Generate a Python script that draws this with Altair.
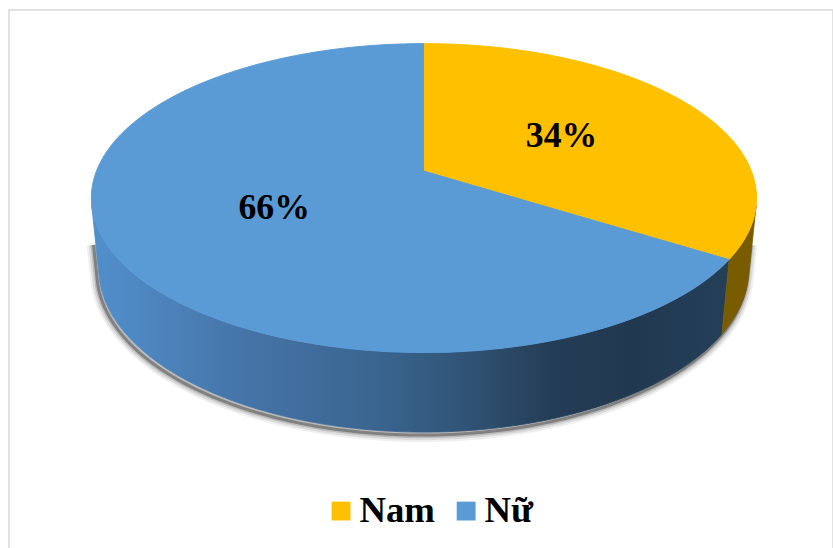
import numpy as np
import pandas as pd
import altair as alt

# ---- data ----
categories = ["Nam", "Nữ"]
values = [34, 66]
label_texts = ["34%", "66%"]
top_colors = ["#FFC000", "#5B9BD5"]
yellow_side = "#7A5C00"

# ---- 3D view parameters (layout, not data) ----
TILT = np.radians(27.2)
DIST = 5.03
THICK = 0.245
K = 329.7           # pixels per unit radius
CX, CY = 427, 170   # pixel position of pie centre
PAD_L, PAD_T = 9, 8
W, H = 830, 545


def project(X, Y, Zd):
    c, s = np.cos(TILT), np.sin(TILT)
    v = Y * c - Zd * s
    w = Zd * c + Y * s
    f = DIST / (DIST - w)
    return X * f, v * f


def rim(theta_deg, Y=0.0, r=1.0):
    t = np.radians(theta_deg)
    return project(r * np.sin(t), Y, -r * np.cos(t))


def arc(t0, t1, Y=0.0):
    n = max(2, int(abs(t1 - t0))) + 1
    ang = np.linspace(t0, t1, n)
    xs, ys = rim(ang, Y)
    return list(zip(xs, ys))


total = sum(values)
bounds = []
acc = 0.0
for v in values:
    t0 = acc / total * 360
    acc += v
    t1 = acc / total * 360
    bounds.append((t0, t1))

theta_s = np.degrees(np.arccos(-1.0 / (DIST * np.cos(TILT))))
color_of = dict(zip(categories, top_colors))

# top faces
top_rows = []
for cat, (t0, t1) in zip(categories, bounds):
    pts = [(0.0, 0.0)] + arc(t0, t1, 0.0) + [(0.0, 0.0)]
    for i, (x, y) in enumerate(pts):
        top_rows.append({"piece": "top_" + cat, "cat": cat, "edge": color_of[cat], "i": i, "x": x, "y": y})
top_df = pd.DataFrame(top_rows)

# side faces
side_rows = []
for cat, (t0, t1) in zip(categories, bounds):
    lo, hi = max(t0, theta_s), min(t1, 360 - theta_s)
    if hi <= lo:
        continue
    pts = arc(lo, hi, 0.0) + arc(hi, lo, -THICK)
    pts.append(pts[0])
    for i, (x, y) in enumerate(pts):
        side_rows.append({"piece": "side_" + cat, "cat": cat, "i": i, "x": x, "y": y})
side_df = pd.DataFrame(side_rows)

# shadow: open path along the outer silhouette of the side, shifted down-left
top_start = -THICK * 0.5
sh_pts = [tuple(rim(360 - theta_s, top_start))] + arc(360 - theta_s, theta_s, -THICK) + [tuple(rim(theta_s, top_start))]
shadow_df = pd.DataFrame(
    [{"piece": "shadow", "i": i, "x": x - 2.0 / K, "y": y - 3.0 / K} for i, (x, y) in enumerate(sh_pts)]
)

# labels at half radius of each slice's mid-angle
lab_rows = []
for cat, txt, (t0, t1) in zip(categories, label_texts, bounds):
    x, y = rim((t0 + t1) / 2, 0.0, 0.5)
    lab_rows.append({"cat": cat, "label": txt, "x": float(x), "y": float(y)})
lab_df = pd.DataFrame(lab_rows)

# scales so that one unit = K pixels with centre at (CX, CY)
xmin = (PAD_L - CX) / K
xmax = xmin + W / K
ymax = (CY - PAD_T) / K
ymin = ymax - H / K
xs = alt.Scale(domain=[xmin, xmax], nice=False, zero=False)
ys = alt.Scale(domain=[ymin, ymax], nice=False, zero=False)

X = alt.X("x:Q", scale=xs, axis=None)
Y = alt.Y("y:Q", scale=ys, axis=None)

fill_scale = alt.Scale(domain=categories, range=top_colors)
legend = alt.Legend(
    title=None, orient="none", legendX=316, legendY=486,
    direction="horizontal", symbolType="square", symbolSize=361,
    symbolStrokeWidth=0, symbolOpacity=1, labelFont="Liberation Serif", labelFontSize=37,
    labelFontWeight="bold", labelColor="#000000", labelOffset=0,
    columnPadding=12, padding=0,
)

shadow_layers = []
for sw, op in [(14, 0.06), (10, 0.09), (6, 0.15), (3, 0.3)]:
    shadow_layers.append(
        alt.Chart(shadow_df).mark_line(
            stroke="#000000", strokeOpacity=op, strokeWidth=sw,
            strokeJoin="round", strokeCap="butt"
        ).encode(x=X, y=Y, order=alt.Order("i:Q"), detail="piece:N")
    )

blue_grad = alt.Gradient(
    gradient="linear", x1=0, x2=1, y1=0, y2=0,
    stops=[
        alt.GradientStop(color="#5190CC", offset=0.0),
        alt.GradientStop(color="#4D84BD", offset=0.1),
        alt.GradientStop(color="#4473A6", offset=0.25),
        alt.GradientStop(color="#3A6590", offset=0.45),
        alt.GradientStop(color="#2F5273", offset=0.6),
        alt.GradientStop(color="#243D56", offset=0.72),
        alt.GradientStop(color="#213950", offset=0.85),
        alt.GradientStop(color="#253F59", offset=1.0),
    ],
)

side_blue = alt.Chart(side_df[side_df["cat"] == "Nữ"]).mark_line(
    fill=blue_grad, stroke=blue_grad, strokeWidth=0.8
).encode(x=X, y=Y, order=alt.Order("i:Q"), detail="piece:N")

side_yellow = alt.Chart(side_df[side_df["cat"] == "Nam"]).mark_line(
    fill=yellow_side, stroke=yellow_side, strokeWidth=0.8
).encode(x=X, y=Y, order=alt.Order("i:Q"), detail="piece:N")

# thin edges in the face colour to hide seams (raw colours, no scale, no legend)
top_edges = alt.Chart(top_df).mark_line(strokeWidth=1, strokeJoin="round").encode(
    x=X, y=Y, order=alt.Order("i:Q"), detail="piece:N",
    stroke=alt.Stroke("edge:N", scale=None),
)

top = alt.Chart(top_df).mark_line(strokeWidth=0).encode(
    x=X, y=Y, order=alt.Order("i:Q"), detail="piece:N",
    fill=alt.Fill("cat:N", scale=fill_scale, legend=legend),
)

# invisible points that carry the legend (symbol legend for the slices)
legend_carrier = alt.Chart(lab_df).mark_point(filled=True, size=0, opacity=0).encode(
    x=X, y=Y,
    fill=alt.Fill("cat:N", scale=fill_scale, legend=legend),
)

labels = alt.Chart(lab_df).mark_text(
    font="Liberation Serif", fontSize=36, fontWeight="bold", color="#000000",
    align="center", baseline="middle"
).encode(x=X, y=Y, text="label:N")

chart = alt.layer(*shadow_layers, side_blue, side_yellow, top_edges, top, legend_carrier, labels).properties(
    width=W, height=H,
    autosize=alt.AutoSizeParams(type="none"),
    padding={"left": PAD_L, "top": PAD_T, "right": 0, "bottom": 0},
    background="#FFFFFF",
).configure_view(stroke="#D9D9D9", strokeWidth=1.5)

chart.save("out.html", embed_options={"renderer": "svg", "actions": False})
